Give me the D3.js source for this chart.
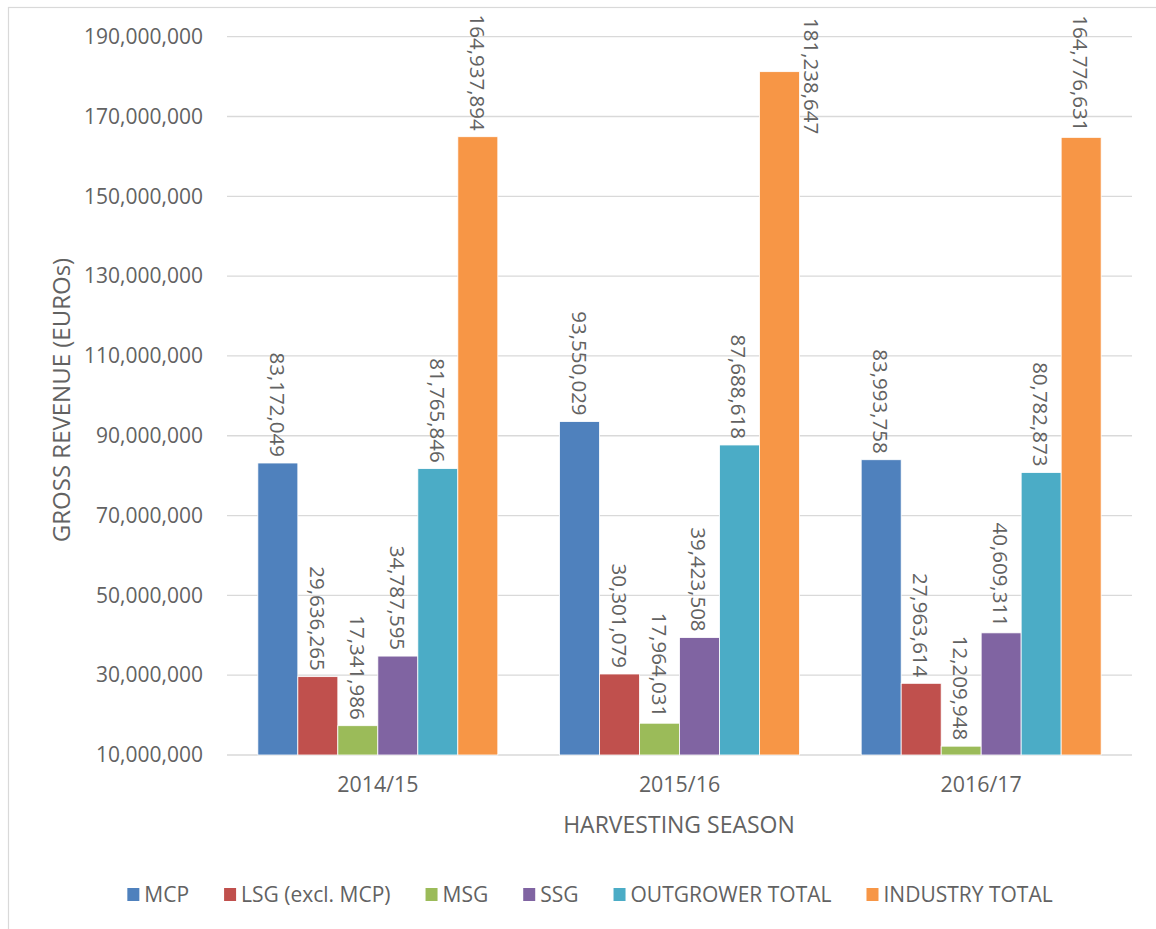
<!DOCTYPE html>
<html>
<head>
<meta charset="utf-8">
<script src="https://cdn.jsdelivr.net/npm/d3@7"></script>
<style>
  html, body { margin: 0; padding: 0; background: #fff; }
  svg { display: block; }
  text { font-family: "Open Sans", "Noto Sans", sans-serif; fill: #626262; }
</style>
</head>
<body>
<svg id="chart" width="1156" height="929"></svg>
<script>
const seasons = ["2014/15", "2015/16", "2016/17"];
const seriesNames = ["MCP", "LSG (excl. MCP)", "MSG", "SSG", "OUTGROWER TOTAL", "INDUSTRY TOTAL"];
const seriesColors = ["#4F81BD", "#C0504D", "#9BBB59", "#8064A2", "#4BACC6", "#F79646"];
const mcp = [83172049, 93550029, 83993758];
const lsg = [29636265, 30301079, 27963614];
const msg = [17341986, 17964031, 12209948];
const ssg = [34787595, 39423508, 40609311];
const outgrower = [81765846, 87688618, 80782873];
const industry = [164937894, 181238647, 164776631];
const yTicks = [10000000, 30000000, 50000000, 70000000, 90000000, 110000000, 130000000, 150000000, 170000000, 190000000];

const seriesValues = [mcp, lsg, msg, ssg, outgrower, industry];

const svg = d3.select("#chart");
const plotLeft = 227, plotRight = 1132, plotTop = 36.7, plotBottom = 755;

// outer frame
svg.append("rect").attr("x", 8.5).attr("y", 7.5).attr("width", 1200).attr("height", 1000)
  .attr("fill", "none").attr("stroke", "#d9d9d9").attr("stroke-width", 1.2);

const y = d3.scaleLinear().domain([10000000, 190000000]).range([plotBottom, plotTop]);
const p = 0.2045;
const x0 = d3.scaleBand().domain(seasons).range([plotLeft, plotRight]).paddingInner(p).paddingOuter(p / 2);
const x1 = d3.scaleBand().domain(seriesNames).range([0, x0.bandwidth()]).padding(0);

const fmt = d3.format(",");

// gridlines
svg.append("g").selectAll("line").data(yTicks).join("line")
  .attr("x1", plotLeft).attr("x2", plotRight)
  .attr("y1", d => y(d)).attr("y2", d => y(d))
  .attr("stroke", "#d9d9d9").attr("stroke-width", 1.3);

// y axis labels
const yAxis = d3.axisLeft(y).tickValues(yTicks).tickFormat(fmt).tickSize(0).tickPadding(24);
const yg = svg.append("g").attr("transform", `translate(${plotLeft},0)`).call(yAxis);
yg.select(".domain").remove();
yg.selectAll("text").style("font-size", "21px").attr("fill", "#626262")
  .style("font-family", '"Open Sans", sans-serif');

// x axis labels
const xAxis = d3.axisBottom(x0).tickSize(0).tickPadding(22);
const xg = svg.append("g").attr("transform", `translate(0,${plotBottom})`).call(xAxis);
xg.select(".domain").remove();
xg.selectAll("text").style("font-size", "21.4px").attr("fill", "#626262")
  .style("font-family", '"Open Sans", sans-serif');

// bars
const rows = [];
seasons.forEach((s, i) => seriesNames.forEach((n, j) => rows.push({ season: s, name: n, color: seriesColors[j], value: seriesValues[j][i] })));

const g = svg.append("g");
g.selectAll("rect").data(rows).join("rect")
  .attr("x", d => x0(d.season) + x1(d.name))
  .attr("y", d => y(d.value))
  .attr("width", x1.bandwidth())
  .attr("height", d => y(10000000) - y(d.value))
  .attr("fill", d => d.color)
  .attr("stroke", "#ffffff").attr("stroke-width", 0.8);

// value labels (rotated)
const labels = g.selectAll("text.val").data(rows).join("text").attr("class", "val")
  .attr("text-anchor", "end")
  .attr("dominant-baseline", "central")
  .style("font-size", "20.5px")
  .text(d => fmt(d.value));
labels.each(function (d) {
  const len = this.getComputedTextLength();
  const cxBar = x0(d.season) + x1(d.name) + x1.bandwidth() / 2;
  const endY = y(d.value) - 6;
  const sel = d3.select(this);
  if (endY - len < 8) {
    // not enough room above: label shifted beside the bar, inside the chart
    sel.attr("text-anchor", "start")
      .attr("transform", `translate(${cxBar + x1.bandwidth() / 2 + 13},18) rotate(90)`);
  } else {
    sel.attr("transform", `translate(${cxBar},${endY}) rotate(90)`);
  }
});

// axis titles
svg.append("text")
  .attr("transform", `translate(60,400) rotate(-90)`)
  .attr("text-anchor", "middle").attr("dominant-baseline", "central")
  .style("font-size", "24px").text("GROSS REVENUE (EUROs)");

svg.append("text")
  .attr("x", 679).attr("y", 833)
  .attr("text-anchor", "middle")
  .style("font-size", "23px").text("HARVESTING SEASON");

// legend
const legend = svg.append("g");
const items = legend.selectAll("g").data(seriesNames).join("g");
items.append("rect").attr("width", 12).attr("height", 13).attr("y", -14).attr("fill", (d, i) => seriesColors[i]);
items.append("text").attr("x", 17).attr("y", 0).style("font-size", "21px").text(d => d);
let cx = 0;
const gap = 35;
items.each(function () {
  const w = 17 + d3.select(this).select("text").node().getComputedTextLength();
  d3.select(this).attr("data-x", cx);
  cx += w + gap;
});
const total = cx - gap;
const startX = 590 - total / 2;
items.attr("transform", function () { return `translate(${startX + +this.getAttribute("data-x")},902)`; });
</script>
</body>
</html>
